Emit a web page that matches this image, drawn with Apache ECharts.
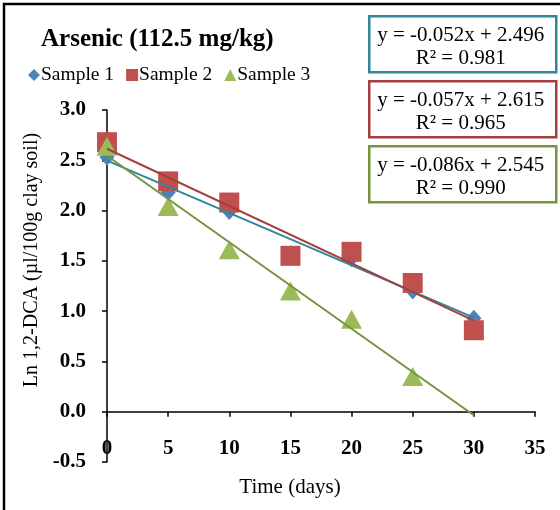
<!DOCTYPE html>
<html>
<head>
<meta charset="utf-8">
<script src="https://cdn.jsdelivr.net/npm/echarts@6/dist/echarts.min.js"></script>
<style>
  html, body { margin: 0; padding: 0; background: #fff; }
  #chart { width: 560px; height: 510px; }
</style>
</head>
<body>
<div id="chart"></div>
<script>
// Ln 1,2-DCA over time, three samples, with linear trendlines
const days = [0, 5, 10, 15, 20, 25, 30];
const sample1 = [2.53, 2.18, 1.99, 1.57, 1.52, 1.20, 0.93];
const sample2 = [2.68, 2.29, 2.08, 1.55, 1.59, 1.28, 0.81];
const sample3 = [2.64, 2.04, 1.61, 1.20, 0.92, 0.35, null];

const seriesNames = ['Sample 1', 'Sample 2', 'Sample 3'];
const markerColors = ['#4F81BD', '#C0504D', '#9BBB59'];
const trendColors = ['#31859C', '#A3403D', '#77933C'];
const symbols = ['diamond', 'rect', 'triangle'];
const symbolSizes = [[15, 17], 20, [21, 19]];

// fitted trendline coefficients and R² values
const slopes = [-0.052, -0.057, -0.086];
const intercepts = [2.496, 2.615, 2.545];
const rSquared = [0.981, 0.965, 0.990];
const trendRange = [0, 30];

const xTicks = { min: 0, max: 35, step: 5 };
const yTicks = { min: -0.5, max: 3.0, step: 0.5 };

const serif = '"Liberation Serif", "Times New Roman", serif';
const sampleData = [sample1, sample2, sample3];

const pointSeries = sampleData.map((vals, i) => ({
  name: seriesNames[i],
  type: 'scatter',
  symbol: symbols[i],
  symbolSize: symbolSizes[i],
  itemStyle: { color: markerColors[i], opacity: 1 },
  z: 2 + i,
  data: days.map((d, j) => vals[j] == null ? null : [d, vals[j]]).filter(p => p)
}));

const trendSeries = slopes.map((m, i) => ({
  name: 'trend' + i,
  type: 'line',
  showSymbol: false,
  silent: true,
  z: 10,
  lineStyle: { color: trendColors[i], width: 2 },
  data: trendRange.map(x => [x, +(m * x + intercepts[i]).toFixed(4)])
}));

function fmtEq(m, b) {
  return 'y = ' + m.toFixed(3) + 'x ' + (b < 0 ? '- ' : '+ ') + Math.abs(b).toFixed(3);
}

const boxTops = [15, 80, 145];
const eqBoxes = slopes.map((m, i) => ({
  type: 'group',
  left: 368,
  top: boxTops[i],
  children: [
    {
      type: 'rect',
      shape: { x: 0, y: 0, width: 187, height: 56 },
      style: { fill: '#fff', stroke: trendColors[i], lineWidth: 2.5 }
    },
    {
      type: 'text',
      x: 91.5, y: 19,
      style: {
        text: fmtEq(m, intercepts[i]),
        font: '21px ' + serif, fill: '#000',
        align: 'center', verticalAlign: 'middle'
      }
    },
    {
      type: 'text',
      x: 91.5, y: 42,
      style: {
        text: 'R² = ' + rSquared[i].toFixed(3),
        font: '21px ' + serif, fill: '#000',
        align: 'center', verticalAlign: 'middle'
      }
    }
  ]
}));

const chart = echarts.init(document.getElementById('chart'), null, { renderer: 'canvas' });
chart.setOption({
  animation: false,
  backgroundColor: '#fff',
  title: {
    text: 'Arsenic (112.5 mg/kg)',
    left: 36, top: 22,
    textStyle: { fontFamily: serif, fontSize: 25, fontWeight: 'bold', color: '#000' }
  },
  legend: {
    data: seriesNames.map((n, i) => ({ name: n, icon: symbols[i] })),
    left: 23, top: 60,
    itemWidth: 12, itemHeight: 12, itemGap: 12,
    textStyle: { fontFamily: serif, fontSize: 19.5, color: '#000', padding: [0, 0, 0, -4] }
  },
  grid: { left: 107, right: 25, top: 110, bottom: 48, outerBoundsMode: 'none', containLabel: false },
  xAxis: {
    type: 'value',
    min: xTicks.min, max: xTicks.max, interval: xTicks.step,
    name: 'Time (days)',
    nameLocation: 'middle', nameGap: 15,
    nameTextStyle: { fontFamily: serif, fontSize: 21, color: '#000', verticalAlign: 'top', padding: [0, 62, 0, 0] },
    axisLine: { onZero: true, lineStyle: { color: '#000', width: 1.5 } },
    axisTick: { show: true, inside: false, length: 5, lineStyle: { color: '#000', width: 1.5 } },
    axisLabel: { margin: -24, fontFamily: serif, fontSize: 21, fontWeight: 'bold', color: '#000' },
    splitLine: { show: false }
  },
  yAxis: {
    type: 'value',
    min: yTicks.min, max: yTicks.max, interval: yTicks.step,
    name: 'Ln 1,2-DCA (µl/100g clay soil)',
    nameLocation: 'middle', nameGap: 64, nameRotate: 90,
    nameTextStyle: { fontFamily: serif, fontSize: 20, color: '#000', padding: [0, 0, 0, 52] },
    axisLine: { show: true, onZero: false, lineStyle: { color: '#000', width: 1.5 } },
    axisTick: { show: true, inside: false, length: 5, lineStyle: { color: '#000', width: 1.5 } },
    axisLabel: {
      margin: 21, fontFamily: serif, fontSize: 21, fontWeight: 'bold', color: '#000',
      formatter: v => v.toFixed(1)
    },
    splitLine: { show: false }
  },
  series: pointSeries.concat(trendSeries),
  graphic: [
    {
      type: 'rect',
      shape: { x: 4, y: 4, width: 620, height: 620 },
      style: { fill: 'none', stroke: '#000', lineWidth: 2.5 },
      z: 100, silent: true
    }
  ].concat(eqBoxes)
});
</script>
</body>
</html>
